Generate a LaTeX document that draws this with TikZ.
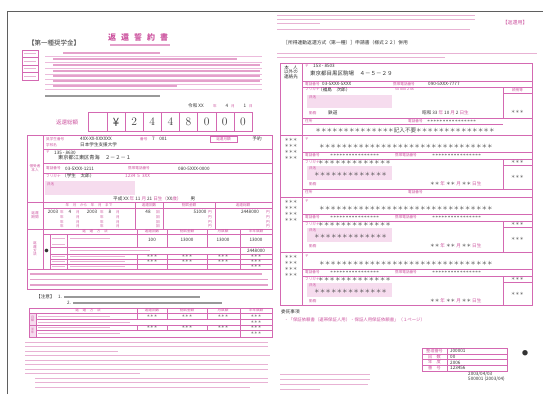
\documentclass[tikz,border=0pt]{standalone}
\usepackage{fontspec}
\newfontfamily\jpfont{Noto Sans CJK JP}
\usetikzlibrary{positioning,calc}

\definecolor{formpink}{RGB}{212,105,178}
\definecolor{inkpink}{RGB}{205,85,160}
\definecolor{fillpink}{RGB}{246,220,238}
\definecolor{framegray}{RGB}{95,95,95}

\newcommand{\jpsize}[1]{\jpfont\fontsize{#1}{#1}\selectfont}
\newcommand{\starrow}[1]{\foreach \n in {1,...,#1}{＊}}

\begin{document}
\begin{tikzpicture}[x=1pt, y=-1pt]
    % Define styles
    \tikzset{
        formrule/.style={draw=formpink, line width=0.45pt},
        formbox/.style={draw=formpink, line width=0.7pt},
        blur/.style={draw=inkpink!55, line width=1.3pt},
        fineprint/.style={draw=inkpink!45, line width=1pt},
        ink/.style={draw=black!40, line width=1.2pt},
        pinktag/.style={inner sep=0pt, text=inkpink, font=\jpsize{3.6}},
        entrytext/.style={inner sep=0pt, text=black!80, font=\jpsize{4.6}},
        starstext/.style={inner sep=0pt, text=black!70, font=\jpsize{5.6}},
        digit/.style={inner sep=0pt, text=black!75, font=\fontsize{11.5}{11.5}\selectfont},
        field/.style={fill=fillpink, inner sep=0pt, anchor=north west}
    }
    \useasboundingbox (0,0) rectangle (543,394);
    \fill[white] (0,0) rectangle (543,394);

    % Scan edge
    \draw[framegray, line width=0.9pt] (7,394) -- (7,11) -- (543,11);

    %%% Left sheet
    % Heading
    \node[entrytext, font=\jpsize{6.5}, anchor=west] (kind) at (28,43) {【第一種奨学金】};
    \node[inner sep=0pt, text=inkpink, font=\jpsize{8}\bfseries] (title) at (138,37)
        {返\hspace{5pt}還\hspace{5pt}誓\hspace{5pt}約\hspace{5pt}書};
    \draw[blur] (110,45) -- (170,45);

    % Small index box
    \draw[formbox] (22,50) rectangle (38,80);
    \foreach \y in {57.5,65,72.5} \draw[formrule] (22,\y) -- (38,\y);
    \foreach \y in {53.75,61.25,68.75,76.25} \draw[fineprint] (24,\y) -- (36,\y);

    % Pledge text
    \foreach \y in {56,62,68,74,79,84,89} \draw[draw=formpink!45, line width=0.3pt] (45,\y) -- (262,\y);
    \draw[blur] (63,53) -- (160,53);
    \draw[blur] (53,59) -- (237,59);
    \foreach \y in {65,71,76,81} \draw[blur] (53,\y) -- (260,\y);
    \draw[blur] (53,86) -- (177,86);
    \draw[ink] (45,96) -- (160,96);

    % Date
    \node[entrytext, anchor=west] (date_year) at (188,106) {令和\ XX};
    \node[pinktag] (date_y) at (215,106) {年};
    \node[entrytext] (date_month) at (227,106) {4};
    \node[pinktag] (date_m) at (233,106) {月};
    \node[entrytext] (date_day) at (245,106) {1};
    \node[pinktag] (date_d) at (251,106) {日};

    % Total amount
    \node[pinktag, font=\jpsize{5.5}] (total_label) at (67,122) {返還総額};
    \draw[formbox] (88,112) rectangle (252,131);
    \draw[formrule] (107,112) -- (107,131);
    \foreach \i in {1,...,7} \draw[formrule] ({107+18.125*\i},112) -- ({107+18.125*\i},131);
    \foreach \d [count=\i] in {{\jpfont ¥},2,4,4,8,0,0,0}
        \node[digit] (digit\i) at ({107+18.125*(\i-0.5)},122) {\d};

    % Borrower table: grid
    \draw[formbox] (27,135) rectangle (272,289);
    \draw[formrule] (43,135) -- (43,269);
    \draw[formrule] (43,149) -- (272,149);
    \draw[formrule] (43,163) -- (272,163);
    \draw[formrule] (43,173) -- (272,173);
    \draw[formrule] (27,202) -- (272,202);
    \draw[formrule] (43,208) -- (272,208);
    \foreach \x in {135,163,215} \draw[formrule] (\x,202) -- (\x,229);
    \draw[formrule] (27,229) -- (272,229);
    \draw[formrule] (43,234) -- (272,234);
    \draw[formrule] (50,234) -- (50,269);
    \draw[formrule] (67,234) -- (67,269);
    \foreach \x in {137,167,207} {
        \draw[formrule] (\x,229) -- (\x,247);
        \draw[formrule] (\x,254) -- (\x,269);
    }
    \draw[formrule] (240,229) -- (240,269);
    \foreach \y in {247,254,259,264} \draw[formrule] (50,\y) -- (272,\y);
    \draw[formrule] (27,269) -- (272,269);

    % Borrower
    \node[pinktag, align=center] (borrower_tag) at (35,168) {借受者\\本人};
    \node[pinktag, anchor=west] (number_tag) at (46,139) {奨学生番号};
    \node[entrytext, anchor=west] (number) at (80,139) {4XX-XX-XXXXXX};
    \node[pinktag, anchor=west] (school_tag) at (46,145) {学校名};
    \node[entrytext, anchor=west] (school) at (80,145) {日本学生支援大学};
    \node[pinktag, anchor=west] (class_tag) at (140,139) {番号};
    \node[entrytext, anchor=west] (class) at (152,139) {7\quad 001};
    \draw[formrule] (210,136) rectangle (237,142);
    \node[pinktag] (plan_tag) at (223.5,139) {返還月額};
    \node[entrytext] (plan) at (257,139) {予約};
    \node[pinktag, anchor=west] (zip_tag) at (46,152.5) {〒};
    \node[entrytext, anchor=west] (zip) at (54,152.5) {135\ -\ 8630};
    \node[entrytext, font=\jpsize{5.2}, anchor=west] (address) at (58,157.5) {東京都江東区青海\quad ２－２－１};
    \node[pinktag, anchor=west] (phone_tag) at (46,168.5) {電話番号};
    \node[entrytext, anchor=west] (phone) at (65,168.5) {03-5XXX-1211};
    \node[pinktag, anchor=west] (mobile_tag) at (128,168.5) {携帯電話番号};
    \node[entrytext, anchor=west] (mobile) at (178,168.5) {080-5XXX-0000};
    \node[pinktag, anchor=west] (kana_tag) at (46,176) {フリガナ};
    \node[entrytext, anchor=west] (kana) at (62,176) {（学生　太郎）};
    \node[entrytext, anchor=west, text=inkpink] (code) at (125,176) {1234\ \ 5\ \ 3XX};
    \node[field, minimum width=90pt, minimum height=14pt] (name_field) at (45,181) {};
    \node[pinktag, anchor=west] (name_tag) at (47,184) {氏名};
    \node[entrytext, anchor=west] (birth) at (113,198.5)
        {平成\ XX\ \textcolor{inkpink}{年}\ 11\ \textcolor{inkpink}{月}\ 21\ \textcolor{inkpink}{日生（}XX\textcolor{inkpink}{歳）}\qquad 男};

    % Term
    \node[pinktag, align=center] (term_tag) at (35,215) {返還\\期間};
    \node[pinktag] (term_head) at (89,205) {年\quad 月\quad から\quad 年\quad 月\quad まで};
    \node[pinktag] (count_head) at (149,205) {返還回数};
    \node[pinktag] (rate_head) at (189,205) {割賦金額};
    \node[pinktag] (sum_head) at (243,205) {返還総額};
    \node[entrytext] (start_year) at (53,212) {2003};
    \node[entrytext] (start_month) at (70,212) {4};
    \node[entrytext] (end_year) at (92,212) {2003};
    \node[entrytext] (end_month) at (110,212) {8};
    \node[entrytext] (count) at (148,212) {48};
    \node[entrytext] (installment) at (200,212) {51000};
    \node[entrytext] (sum) at (250,212) {2448000};
    \foreach \y in {212,217,222,226}
        \foreach \x/\m in {62/年,78/月,102/年,118/月,158/回,210/円,268/円}
            \node[pinktag] (mark\x-\y) at (\x,\y) {\m};

    % Method
    \node[pinktag, align=center] (method_tag) at (35,249) {返\\還\\方\\法};
    \node[pinktag] (method_head) at (95,231.5) {返\quad 還\quad 方\quad 法};
    \node[pinktag] (m_count_head) at (152,231.5) {返還回数};
    \node[pinktag] (m_rate_head) at (187,231.5) {割賦金額};
    \node[pinktag] (m_month_head) at (223,231.5) {月賦額};
    \node[pinktag] (m_half_head) at (256,231.5) {半年賦額};
    \node[entrytext, font=\jpsize{4}] (choice) at (46.5,250.5) {●};
    \foreach \y in {238,244,256.5,261.5,266.5} \draw[fineprint] (52,\y) -- (65,\y);
    \draw[fineprint] (70,238) -- (110,238);
    \draw[fineprint] (70,250.5) -- (150,250.5);
    \foreach \y in {256.5,261.5,266.5} \draw[fineprint] (70,\y) -- (125,\y);
    \node[entrytext] (count_a) at (152,240) {100};
    \node[entrytext] (pay_a) at (187,240) {13000};
    \node[entrytext] (pay_b) at (223,240) {13000};
    \node[entrytext] (pay_c) at (256,240) {13000};
    \node[entrytext] (grand) at (256,250.5) {2448000};
    \foreach \y in {256.5,261.5}
        \foreach \x in {152,187,223,256}
            \node[starstext, font=\jpsize{3.6}] (star\x-\y) at (\x,\y) {＊＊＊};
    \node[starstext, font=\jpsize{3.6}] (star_end) at (256,266.5) {＊＊＊};

    % Note
    \draw[blur] (30,274) -- (262,274);
    \draw[blur] (30,279.5) -- (268,279.5);
    \draw[blur] (30,285) -- (268,285);

    % Caution
    \node[entrytext, anchor=west] (caution) at (36,297) {【注意】};
    \node[entrytext, anchor=west] (caution_one) at (58,297) {1.};
    \draw[ink] (64,297) -- (200,297);
    \node[entrytext, anchor=west] (caution_two) at (67,303) {2.};
    \draw[ink] (73,303) -- (222,303);

    % Second method table
    \fill[fillpink] (29,313) rectangle (36,337);
    \draw[formbox] (29,308) rectangle (272,337);
    \draw[formrule] (29,313) -- (272,313);
    \draw[formrule] (29,325) -- (272,325);
    \foreach \y in {319,330} \draw[formrule] (36,\y) -- (272,\y);
    \draw[formrule] (36,313) -- (36,337);
    \foreach \x in {137,167,207} {
        \draw[formrule] (\x,308) -- (\x,319);
        \draw[formrule] (\x,325) -- (\x,330);
    }
    \draw[formrule] (240,308) -- (240,337);
    \node[pinktag] (method2_head) at (88,310.5) {返\quad 還\quad 方\quad 法};
    \node[pinktag] (m2_count_head) at (152,310.5) {返還回数};
    \node[pinktag] (m2_rate_head) at (187,310.5) {割賦金額};
    \node[pinktag] (m2_month_head) at (223,310.5) {月賦額};
    \node[pinktag] (m2_half_head) at (256,310.5) {半年賦額};
    \node[pinktag, font=\jpsize{3}, align=center] (m2_tag_a) at (32.5,319) {月\\賦};
    \node[pinktag, font=\jpsize{3}, align=center] (m2_tag_b) at (32.5,331) {半\\年};
    \draw[fineprint] (38,316) -- (110,316);
    \draw[fineprint] (38,322) -- (130,322);
    \draw[fineprint] (38,327.5) -- (110,327.5);
    \draw[fineprint] (38,333.5) -- (120,333.5);
    \foreach \y in {316,327.5}
        \foreach \x in {152,187,223,256}
            \node[starstext, font=\jpsize{3.6}] (cell\x-\y) at (\x,\y) {＊＊＊};
    \node[starstext, font=\jpsize{3.6}] (cell_a) at (256,322) {＊＊＊};
    \node[starstext, font=\jpsize{3.6}] (cell_b) at (256,333.5) {＊＊＊};

    % Fine print
    \foreach \y/\a/\b in {342/25/268,346.5/25/268,351/25/118,355.5/25/270,360/25/230,
                          364.5/25/268,369/25/268,373.5/25/140,378/35/268,382.5/35/268,387/35/250}
        \draw[fineprint] (\a,\y) -- (\b,\y);

    %%% Right sheet
    % Heading
    \draw[fineprint] (277,15) -- (475,15);
    \draw[fineprint] (277,19) -- (475,19);
    \draw[fineprint] (277,23) -- (320,23);
    \draw[fineprint] (277,29) -- (470,29);
    \node[pinktag, font=\jpsize{5}] (copy_tag) at (515,23) {【返還用】};
    \node[entrytext, font=\jpsize{4.8}, anchor=west] (sheet_title) at (283,43)
        {［所得連動返還方式（第一種）］申請書（様式２２）併用};
    \draw[fineprint] (277,53) -- (537,53);
    \draw[fineprint] (277,57) -- (445,57);

    % Contact table: grid
    \draw[formbox] (280,63) rectangle (532,305);
    \draw[formrule] (302,63) -- (302,305);
    \foreach \y in {135,197,252} \draw[formrule] (280,\y) -- (532,\y);

    % Contact other than borrower
    \node[entrytext, font=\jpsize{4.6}, align=center] (contact_tag) at (291,72) {本\hspace{4pt}人\\以外の\\連絡先};
    \node[pinktag, anchor=west] (zip2_tag) at (305,66) {〒};
    \node[entrytext, anchor=west] (zip2) at (313,66) {153\ -\ 8503};
    \node[entrytext, font=\jpsize{5.5}, anchor=west] (address2) at (310,73) {東京都目黒区駒場\quad ４－５－２９};
    \draw[formrule] (302,81) -- (532,81);
    \node[pinktag, anchor=west] (phone2_tag) at (305,84) {電話番号};
    \node[entrytext, anchor=west] (phone2) at (322,84) {03-5XXX-5XXX};
    \node[pinktag, anchor=west] (mobile2_tag) at (393,84) {携帯電話番号};
    \node[entrytext, anchor=west] (mobile2) at (428,84) {090-5XXX-7777};
    \draw[formrule] (302,87) -- (532,87);
    \draw[formrule] (503,87) -- (503,118);
    \draw[formrule] (503,93) -- (532,93);
    \node[pinktag] (relation_tag) at (517.5,90) {続柄等};
    \node[pinktag, anchor=west] (kana2_tag) at (305,89.5) {フリガナ};
    \node[entrytext, anchor=west] (kana2) at (318,89.5) {（福島　次郎）};
    \node[pinktag, anchor=west] (code2) at (395,89.5) {5X\ 8XX\ 2\ 4X};
    \node[field, minimum width=85pt, minimum height=13pt] (name2_field) at (307,95) {};
    \node[pinktag, anchor=west] (name2_tag) at (309,97.5) {氏名};
    \node[pinktag, anchor=west] (work2_tag) at (309,113) {勤務};
    \node[entrytext, anchor=west] (work2) at (328,113) {鉄道};
    \node[entrytext, anchor=west] (birth2) at (422,113)
        {昭和\ 33\ \textcolor{inkpink}{年}\ 10\ \textcolor{inkpink}{月}\ 2\ \textcolor{inkpink}{日生}};
    \node[starstext, font=\jpsize{4.2}] (relation2) at (517.5,112) {＊＊＊};
    \draw[formrule] (302,118) -- (532,118);
    \node[pinktag, anchor=west] (addr2_tag) at (305,121) {住所};
    \node[pinktag, anchor=west] (tel2_tag) at (408,121) {電話番号};
    \node[entrytext, anchor=west, font=\fontsize{4.5}{4.5}\selectfont] (tel2) at (427,121.5) {****************};
    \draw[formrule] (302,124) -- (503,124);
    \node[starstext] (blank2) at (405,130) {\starrow{14}記入不要\starrow{14}};

    % Guarantor sections
    \foreach \T/\H/\E [count=\idx] in {135/62/54,197/55/55,252/53/53} {
        \foreach \k in {0,...,3}
            \node[starstext, font=\jpsize{4.2}] (code\idx-\k) at (291,{\T+5+6*\k}) {＊＊＊};
        \node[pinktag, anchor=west] (zip\idx) at (305,\T+4) {〒};
        \node[starstext] (addr\idx) at (406,\T+11) {\starrow{31}};
        \draw[formrule] (302,\T+17) -- (532,\T+17);
        \node[pinktag, anchor=west] (tel\idx_tag) at (305,\T+20.5) {電話番号};
        \node[entrytext, anchor=west, font=\fontsize{4.5}{4.5}\selectfont] (tel\idx) at (330,\T+21) {****************};
        \node[pinktag, anchor=west] (mob\idx_tag) at (395,\T+20.5) {携帯電話番号};
        \node[entrytext, anchor=west, font=\fontsize{4.5}{4.5}\selectfont] (mob\idx) at (432,\T+21) {****************};
        \draw[formrule] (302,\T+24) -- (532,\T+24);
        \draw[formrule] (503,\T+24) -- (503,\T+\E);
        \draw[formrule] (503,\T+30) -- (532,\T+30);
        \node[starstext, font=\jpsize{4.2}] (rel\idx) at (517.5,\T+27) {＊＊＊};
        \node[pinktag, anchor=west] (kana\idx_tag) at (305,\T+27.5) {フリガナ};
        \node[starstext, anchor=west] (kana\idx) at (318,\T+27.5) {\starrow{13}};
        \node[field, minimum width=85pt, minimum height=14pt] (field\idx) at (307,\T+31) {};
        \node[pinktag, anchor=west] (name\idx_tag) at (309,\T+33.5) {氏名};
        \node[starstext, anchor=west] (name\idx) at (314,\T+39.5) {\starrow{13}};
        \node[pinktag, anchor=west] (work\idx_tag) at (309,\T+49) {勤務};
        \node[entrytext, anchor=west] (birth\idx) at (430,\T+49)
            {＊＊\ \textcolor{inkpink}{年}\ ＊＊\ \textcolor{inkpink}{月}\ ＊＊\ \textcolor{inkpink}{日生}};
        \node[starstext, font=\jpsize{4.2}] (relb\idx) at (517.5,\T+42) {＊＊＊};
    }
    \draw[formrule] (302,189) -- (532,189);
    \node[pinktag, anchor=west] (addr3_tag) at (305,192.5) {住所};
    \node[pinktag, anchor=west] (tel3_tag) at (408,192.5) {電話番号};

    % Consignment
    \node[entrytext, anchor=west] (consign_tag) at (281,312) {委託事項};
    \node[pinktag, font=\jpsize{4.4}, anchor=west] (consign_item) at (284,320)
        {・「保証依頼書（連帯保証人用）・保証人用保証依頼書」（１ページ）};

    % Receipt stamp
    \draw[formbox] (422,348) rectangle (507,371);
    \draw[formrule] (447,348) -- (447,371);
    \foreach \y in {353.75,359.5,365.25} \draw[formrule] (422,\y) -- (507,\y);
    \foreach \lab/\val [count=\r] in {整理番号/J00001,回　数/00,年　度/2006,番　号/123456} {
        \node[pinktag, font=\jpsize{4.2}] (stamp_tag\r) at (434.5,{348+5.75*(\r-0.5)}) {\lab};
        \node[entrytext, anchor=west] (stamp\r) at (450,{348+5.75*(\r-0.5)}) {\val};
    }
    \node[entrytext, anchor=west] (stamp_date) at (468,374) {2003/04/03};
    \node[entrytext, anchor=west] (stamp_batch) at (468,379) {500001 (2003/04)};
    \node[entrytext, font=\jpsize{6}] (mark) at (525,353) {●};

    % Footnote
    \draw[fineprint] (280,374) -- (370,374);
    \draw[fineprint] (280,379) -- (370,379);
    \draw[fineprint] (280,384) -- (368,384);
    \draw[fineprint] (280,389) -- (320,389);
\end{tikzpicture}
\end{document}
